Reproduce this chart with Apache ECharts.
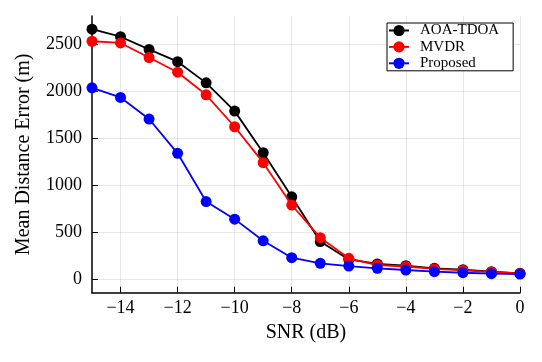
<!DOCTYPE html>
<html>
<head>
<meta charset="utf-8">
<script src="https://cdn.jsdelivr.net/npm/echarts@6/dist/echarts.min.js"></script>
<style>html,body{margin:0;padding:0;background:#fff}#c{width:542px;height:362px}</style>
</head>
<body>
<div id="c"></div>
<script>
var snr = [-15,-14,-13,-12,-11,-10,-9,-8,-7,-6,-5,-4,-3,-2,-1,0];
var aoaTdoa = [2660,2580,2445,2315,2090,1790,1348,880,405,215,167,149,121,106,85,68];
var mvdr = [2532,2514,2359,2203,1963,1624,1243,793,446,227,156,140,115,100,82,66];
var proposed = [2037,1935,1706,1342,830,643,413,234,174,145,121,103,85,74,64,60];
var xTicks = [-14,-12,-10,-8,-6,-4,-2,0];
var yTicks = [0,500,1000,1500,2000,2500];
var seriesNames = ['AOA-TDOA','MVDR','Proposed'];
var seriesColors = ['#000000','#ff0000','#0000ff'];

function pairs(ys){ return snr.map(function(x,i){ return [x, ys[i]]; }); }
var font = 'Liberation Serif';
var chart = echarts.init(document.getElementById('c'), null, {renderer:'canvas'});
var allData = [aoaTdoa, mvdr, proposed];
chart.setOption({
  animation:false,
  backgroundColor:'#ffffff',
  grid:{left:92, right:22, top:16, bottom:69.3, containLabel:false},
  legend:{
    orient:'vertical', left:387, top:23,
    padding:[0,14,0,1], itemGap:1.4, itemWidth:20, itemHeight:14,
    borderColor:'#000', borderWidth:1, backgroundColor:'#fff',
    textStyle:{fontFamily:font, fontSize:15, color:'#000', lineHeight:14, padding:[0,0,0,6]},
    data:seriesNames
  },
  xAxis:{
    type:'value', min:-15, max:0,
    name:'SNR (dB)', nameLocation:'middle', nameGap:30,
    nameTextStyle:{fontFamily:font, fontSize:20, color:'#000'},
    axisLine:{show:true, onZero:false, lineStyle:{color:'#000', width:1.5}},
    axisTick:{show:true, inside:true, length:6, customValues:xTicks, lineStyle:{color:'#000', width:1}},
    axisLabel:{customValues:xTicks, fontFamily:font, fontSize:18, color:'#000', margin:7,
      formatter:function(v){ return String(v).replace('-', '\u2212'); }},
    splitLine:{show:true, lineStyle:{color:'rgba(0,0,0,0.09)', width:1}}
  },
  yAxis:{
    type:'value', min:-138, max:2800,
    name:'Mean Distance Error (m)', nameLocation:'middle', nameGap:58,
    nameTextStyle:{fontFamily:font, fontSize:20, color:'#000'},
    axisLine:{show:true, onZero:false, lineStyle:{color:'#000', width:1.5}},
    axisTick:{show:true, inside:true, length:6, customValues:yTicks, lineStyle:{color:'#000', width:1}},
    axisLabel:{customValues:yTicks, fontFamily:font, fontSize:18, color:'#000', margin:10,
      formatter:function(v){ return String(v); }},
    splitLine:{show:true, lineStyle:{color:'rgba(0,0,0,0.09)', width:1}}
  },
  series: seriesNames.map(function(n,i){
    return {
      name:n, type:'line', data:pairs(allData[i]),
      symbol:'circle', symbolSize:11, showSymbol:true,
      lineStyle:{color:seriesColors[i], width:1.8},
      itemStyle:{color:seriesColors[i]},
      z:2+i
    };
  })
});
</script>
</body>
</html>
